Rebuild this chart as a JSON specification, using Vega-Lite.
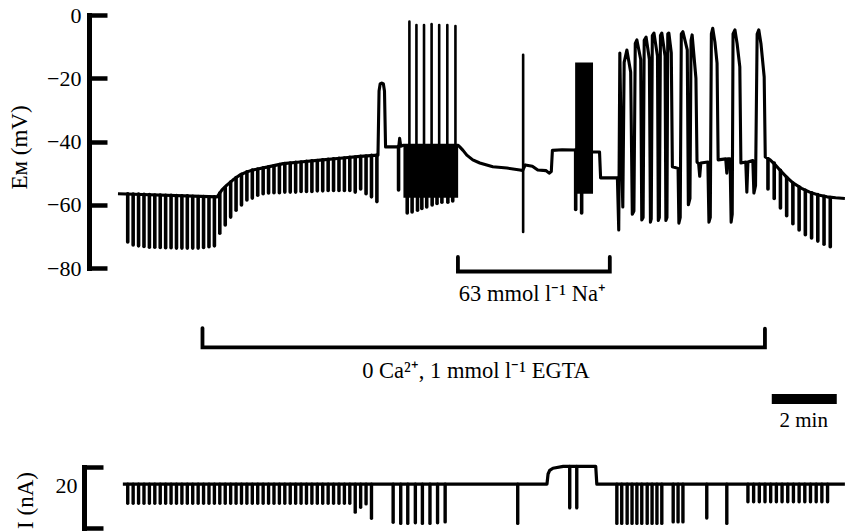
{
 "$schema": "https://vega.github.io/schema/vega-lite/v6.json",
 "width": 756,
 "height": 532,
 "autosize": {"type": "none"},
 "padding": {"left": 89, "top": 0, "right": 0, "bottom": 0},
 "background": "white",
 "config": {"view": {"stroke": null}},
 "datasets": {
  "vl": [
   {"t":0,"v":-56.5},{"t":183,"v":-57.5},{"t":192,"v":-55.3},{"t":201,"v":-53.8},{"t":212,"v":-52.2},{"t":225,"v":-50.6},{"t":238,"v":-49.6},{"t":249,"v":-49.0},{"t":275,"v":-48.1},{"t":305,"v":-47.0},{"t":336,"v":-46.5},{"t":373,"v":-45.9},{"t":410,"v":-45.3},{"t":447,"v":-44.7},{"t":480,"v":-44.3},
   {"t":482,"v":-24},{"t":484,"v":-21.8},{"t":487,"v":-21.5},{"t":490,"v":-21.8},{"t":492,"v":-24},{"t":494,"v":-41.7},{"t":516,"v":-41.7},{"t":518.5,"v":-41.5},{"t":520,"v":-39},{"t":522,"v":-41.5},{"t":527,"v":-41.2},{"t":628,"v":-41.2},
   {"t":631,"v":-41.7},{"t":637,"v":-42.8},{"t":644,"v":-44.3},{"t":655,"v":-45.8},{"t":668,"v":-46.8},{"t":692,"v":-48.0},{"t":718,"v":-48.4},{"t":742,"v":-49.0},{"t":747,"v":-49.2},{"t":752,"v":-47.4},{"t":765,"v":-47.8},{"t":775,"v":-49.0},{"t":790,"v":-49.2},{"t":796,"v":-50.0},{"t":800,"v":-49.5},{"t":802,"v":-42.8},{"t":820,"v":-42.6},{"t":844,"v":-42.7},{"t":877,"v":-43.3},{"t":889,"v":-43.3},{"t":891,"v":-51.5},{"t":922,"v":-51.5},
   {"t":924.5,"v":-68},{"t":926.5,"v":-12},{"t":929,"v":-40},{"t":932,"v":-60.7},{"t":934.5,"v":-15},{"t":939.5,"v":-11.1},{"t":946.5,"v":-18},{"t":949.5,"v":-63},{"t":952.5,"v":-62},{"t":955,"v":-9},{"t":958,"v":-7.9},{"t":965,"v":-14},{"t":967,"v":-64.8},{"t":969.5,"v":-64},{"t":971.5,"v":-8},{"t":975,"v":-7},{"t":981,"v":-14},{"t":983,"v":-65.5},{"t":984.5,"v":-64.5},{"t":986.5,"v":-6.5},{"t":989.5,"v":-5.7},{"t":996,"v":-13},{"t":997.5,"v":-65},{"t":999.5,"v":-64},{"t":1001.5,"v":-6.5},{"t":1004,"v":-5.7},{"t":1010,"v":-13},{"t":1011.5,"v":-65},{"t":1013.5,"v":-64},{"t":1015,"v":-6},{"t":1017,"v":-5.7},{"t":1021.5,"v":-12},{"t":1023.5,"v":-48},{"t":1034,"v":-48.5},{"t":1035.5,"v":-65.8},{"t":1038,"v":-64},{"t":1040,"v":-6},{"t":1043,"v":-5.3},{"t":1051,"v":-11},{"t":1053,"v":-60},{"t":1056,"v":-58},{"t":1058,"v":-8},{"t":1060,"v":-6.3},{"t":1067,"v":-20},{"t":1069,"v":-46.5},{"t":1072,"v":-47},{"t":1074,"v":-51},{"t":1076,"v":-46.8},{"t":1089,"v":-46.5},{"t":1091,"v":-65.5},{"t":1093.5,"v":-64},{"t":1095.5,"v":-6},{"t":1098,"v":-4.2},{"t":1102,"v":-8.5},{"t":1106,"v":-15.2},{"t":1108,"v":-45.8},{"t":1122,"v":-45.5},{"t":1124,"v":-50},{"t":1126,"v":-45.5},{"t":1130,"v":-45.5},{"t":1132,"v":-65.5},{"t":1134,"v":-63},{"t":1135.5,"v":-6},{"t":1139,"v":-4.7},{"t":1143,"v":-9},{"t":1148,"v":-16.4},{"t":1150,"v":-46.8},{"t":1159,"v":-46.5},{"t":1161,"v":-56},{"t":1163,"v":-46.5},{"t":1172,"v":-46},{"t":1174,"v":-56.3},{"t":1177,"v":-54},{"t":1180,"v":-6},{"t":1183,"v":-4.7},{"t":1187,"v":-9},{"t":1193,"v":-19.6},{"t":1195,"v":-44.9},
   {"t":1204,"v":-45.8},{"t":1213,"v":-47.3},{"t":1222,"v":-49.0},{"t":1234,"v":-51.2},{"t":1246,"v":-53.1},{"t":1262,"v":-54.8},{"t":1277,"v":-56.0},{"t":1293,"v":-56.9},{"t":1309,"v":-57.5},{"t":1325,"v":-57.8},{"t":1342,"v":-58.0}
  ],
  "vp": [
   {"t":18,"v":-56.5,"v2":-71.8},{"t":28,"v":-56.6,"v2":-72.7},{"t":38,"v":-56.6,"v2":-73.0},{"t":48,"v":-56.7,"v2":-73.2},{"t":58,"v":-56.8,"v2":-73.4},{"t":68,"v":-56.9,"v2":-73.4},{"t":78,"v":-56.9,"v2":-73.5},{"t":88,"v":-57.0,"v2":-73.6},{"t":98,"v":-57.0,"v2":-73.6},{"t":108,"v":-57.1,"v2":-73.7},{"t":118,"v":-57.2,"v2":-73.7},{"t":128,"v":-57.2,"v2":-73.7},{"t":138,"v":-57.3,"v2":-73.7},{"t":148,"v":-57.4,"v2":-73.7},{"t":158,"v":-57.4,"v2":-73.5},{"t":168,"v":-57.5,"v2":-73.3},{"t":178,"v":-57.5,"v2":-73.0},
   {"t":188,"v":-56.3,"v2":-69.0},{"t":198,"v":-54.6,"v2":-66.4},{"t":208,"v":-52.8,"v2":-63.9},{"t":218,"v":-51.4,"v2":-61.7},{"t":228,"v":-50.4,"v2":-60.1},{"t":238,"v":-49.6,"v2":-58.5},{"t":248,"v":-49.0,"v2":-57.9},{"t":258,"v":-48.7,"v2":-57.0},{"t":268,"v":-48.3,"v2":-56.5},{"t":278,"v":-48.0,"v2":-56.3},{"t":288,"v":-47.7,"v2":-56.2},{"t":298,"v":-47.3,"v2":-56.2},{"t":308,"v":-47.0,"v2":-56.0},{"t":318,"v":-46.8,"v2":-56.0},{"t":328,"v":-46.6,"v2":-56.0},{"t":338,"v":-46.5,"v2":-55.8},{"t":348,"v":-46.3,"v2":-55.8},{"t":358,"v":-46.1,"v2":-55.8},{"t":368,"v":-46.0,"v2":-55.6},{"t":378,"v":-45.8,"v2":-55.6},{"t":388,"v":-45.6,"v2":-55.5},{"t":398,"v":-45.5,"v2":-55.5},{"t":408,"v":-45.3,"v2":-55.5},{"t":418,"v":-45.2,"v2":-55.5},{"t":428,"v":-45.0,"v2":-55.5},{"t":438,"v":-44.9,"v2":-56.0},{"t":448,"v":-44.7,"v2":-55.0},{"t":458,"v":-44.6,"v2":-56.5},{"t":468,"v":-44.4,"v2":-57.5},{"t":478,"v":-44.3,"v2":-59.0},
   {"t":518,"v":-41.5,"v2":-55.3},
   {"t":534,"v":-56,"v2":-62.6},{"t":543,"v":-56,"v2":-62.3},{"t":553,"v":-56,"v2":-61.7},{"t":561,"v":-56,"v2":-61.2},{"t":570,"v":-56,"v2":-60.7},{"t":580,"v":-56,"v2":-60.1},{"t":589,"v":-56,"v2":-59.6},{"t":598,"v":-56,"v2":-59.2},{"t":609,"v":-56,"v2":-59.2},{"t":618,"v":-56,"v2":-58.8},
   {"t":845,"v":-42.7,"v2":-61.5},{"t":856,"v":-55,"v2":-62.6},
   {"t":1200,"v":-45.5,"v2":-55},{"t":1211.5,"v":-46.8,"v2":-58},{"t":1223,"v":-49.1,"v2":-61},{"t":1234.5,"v":-51.3,"v2":-63.5},{"t":1246,"v":-53.1,"v2":-66},{"t":1257.5,"v":-54.4,"v2":-68},{"t":1269,"v":-55.4,"v2":-69.5},{"t":1280.5,"v":-56.2,"v2":-70.5},{"t":1292,"v":-56.8,"v2":-71.5},{"t":1303.5,"v":-57.3,"v2":-72.5},{"t":1315,"v":-57.7,"v2":-73.3}
  ],
  "vs": [
   {"t":538,"v":-42,"v2":-2.1},{"t":551,"v":-42,"v2":-3.2},{"t":565,"v":-42,"v2":-3.2},{"t":579,"v":-42,"v2":-2.9},{"t":593,"v":-42,"v2":-3.2},{"t":608,"v":-42,"v2":-3.2},{"t":623,"v":-42,"v2":-3.5},{"t":748,"v":-68.6,"v2":-12.6}
  ],
  "vb": [
   {"t":527,"t2":628,"v":-40.8,"v2":-57.8},{"t":844,"t2":877,"v":-15,"v2":-56.5}
  ],
  "br": [
   {"g":"na","k":1,"t":627.6,"v":-76.5},{"g":"na","k":2,"t":627.6,"v":-81.1},{"g":"na","k":3,"t":908,"v":-81.1},{"g":"na","k":4,"t":908,"v":-76.5},
   {"g":"eg","k":1,"t":156,"v":-99.0},{"g":"eg","k":2,"t":156,"v":-105.1},{"g":"eg","k":3,"t":1194.4,"v":-105.1},{"g":"eg","k":4,"t":1194.4,"v":-99.2}
  ],
  "sb": [{"t":1207,"t2":1327,"v":-121.4}],
  "tx": [
   {"t":765,"v":-88.1,"label":"63 mmol l⁻¹ Na⁺"},
   {"t":661,"v":-112.6,"label":"0 Ca²⁺, 1 mmol l⁻¹ EGTA"}
  ],
  "tx2": [
   {"t":1266,"v":-128.5,"label":"2 min"}
  ],
  "il": [
   {"t":9,"i":0},{"t":792,"i":0},{"t":794,"i":3.3},{"t":797,"i":4.5},{"t":803,"i":5.2},{"t":822,"i":5.8},{"t":882,"i":5.8},{"t":884,"i":0},{"t":1342,"i":0}
  ],
  "ip": [
   {"t":18,"i":0,"i2":-6.3},{"t":28,"i":0,"i2":-6.3},{"t":38,"i":0,"i2":-6.3},{"t":48,"i":0,"i2":-6.3},{"t":58,"i":0,"i2":-6.3},{"t":68,"i":0,"i2":-6.3},{"t":78,"i":0,"i2":-6.3},{"t":88,"i":0,"i2":-6.3},{"t":98,"i":0,"i2":-6.3},{"t":108,"i":0,"i2":-6.3},{"t":118,"i":0,"i2":-6.3},{"t":128,"i":0,"i2":-6.3},{"t":138,"i":0,"i2":-6.3},{"t":148,"i":0,"i2":-6.3},{"t":158,"i":0,"i2":-6.3},{"t":168,"i":0,"i2":-6.3},{"t":178,"i":0,"i2":-6.3},{"t":188,"i":0,"i2":-6.3},{"t":198,"i":0,"i2":-6.3},{"t":208,"i":0,"i2":-6.3},{"t":218,"i":0,"i2":-6.3},{"t":228,"i":0,"i2":-6.3},{"t":238,"i":0,"i2":-6.3},{"t":248,"i":0,"i2":-6.3},{"t":258,"i":0,"i2":-6.3},{"t":268,"i":0,"i2":-6.3},{"t":278,"i":0,"i2":-6.3},{"t":288,"i":0,"i2":-6.3},{"t":298,"i":0,"i2":-6.3},{"t":308,"i":0,"i2":-6.3},{"t":318,"i":0,"i2":-6.3},{"t":328,"i":0,"i2":-6.3},{"t":338,"i":0,"i2":-6.3},{"t":348,"i":0,"i2":-6.3},{"t":358,"i":0,"i2":-6.3},{"t":368,"i":0,"i2":-6.3},{"t":378,"i":0,"i2":-6.3},{"t":388,"i":0,"i2":-6.3},{"t":398,"i":0,"i2":-6.3},{"t":408,"i":0,"i2":-6.3},{"t":418,"i":0,"i2":-6.3},{"t":428,"i":0,"i2":-6.3},
   {"t":438,"i":0,"i2":-9.2},{"t":448,"i":0,"i2":-7.6},{"t":458,"i":0,"i2":-6.5},{"t":468,"i":0,"i2":-11.2},
   {"t":508,"i":0,"i2":-12.5},{"t":522,"i":0,"i2":-12.9},{"t":535,"i":0,"i2":-12.9},{"t":549,"i":0,"i2":-12.7},{"t":562,"i":0,"i2":-12.9},{"t":576,"i":0,"i2":-12.9},{"t":590,"i":0,"i2":-12.7},{"t":604,"i":0,"i2":-12.4},
   {"t":738,"i":0,"i2":-12.9},
   {"t":834,"i":5.8,"i2":-7.8},{"t":847,"i":5.8,"i2":-7.8},
   {"t":921,"i":0,"i2":-12.9},{"t":930,"i":0,"i2":-12.9},{"t":940,"i":0,"i2":-12.9},{"t":949,"i":0,"i2":-12.9},{"t":958,"i":0,"i2":-12.9},{"t":967,"i":0,"i2":-12.9},{"t":977,"i":0,"i2":-12.9},{"t":986,"i":0,"i2":-12.9},{"t":995,"i":0,"i2":-12.9},{"t":1004,"i":0,"i2":-12.9},
   {"t":1025,"i":0,"i2":-12.4},{"t":1034,"i":0,"i2":-12.4},{"t":1043,"i":0,"i2":-12.4},
   {"t":1087,"i":0,"i2":-11.1},{"t":1124,"i":0,"i2":-12.9},
   {"t":1163,"i":0,"i2":-5.8},{"t":1173.5,"i":0,"i2":-5.8},{"t":1184,"i":0,"i2":-5.8},{"t":1194.5,"i":0,"i2":-5.8},{"t":1205,"i":0,"i2":-5.8},{"t":1215.5,"i":0,"i2":-5.8},{"t":1226,"i":0,"i2":-5.8},{"t":1236.5,"i":0,"i2":-5.8},{"t":1247,"i":0,"i2":-5.8},{"t":1257.5,"i":0,"i2":-5.8},{"t":1268,"i":0,"i2":-5.8},{"t":1278.5,"i":0,"i2":-5.8},{"t":1289,"i":0,"i2":-5.8},{"t":1299.5,"i":0,"i2":-5.8},{"t":1310,"i":0,"i2":-5.8}
  ]
 },
 "layer": [
  {
   "encoding": {
    "x": {"field": "t", "type": "quantitative", "scale": {"domain": [-53.5, 1342.2], "nice": false, "zero": false}, "axis": null},
    "y": {"field": "v", "type": "quantitative", "scale": {"domain": [-80, 0], "range": [268, 15], "nice": false, "zero": false},
     "axis": {"orient": "left", "values": [-80, -60, -40, -20, 0], "title": "Eᴍ (mV)", "grid": false,
      "domainColor": "black", "domainWidth": 5, "domainCap": "square",
      "tickColor": "black", "tickWidth": 4.5, "tickSize": -18,
      "labelFont": "Liberation Serif", "labelFontSize": 22, "labelColor": "black", "labelPadding": 26, "labelFlush": false, "labelOverlap": false, "labelBound": false,
      "titleFont": "Liberation Serif", "titleFontSize": 23, "titleFontWeight": "normal", "titleColor": "black",
      "titleX": -63, "titleY": 147, "titleAngle": 270, "titleAlign": "center", "titleBaseline": "alphabetic"}}
   },
   "layer": [
    {"data": {"name": "vb"}, "mark": {"type": "rect", "color": "black"}, "encoding": {"x2": {"field": "t2"}, "y2": {"field": "v2"}}},
    {"data": {"name": "vl"}, "mark": {"type": "line", "color": "black", "strokeWidth": 3.1, "strokeJoin": "round"}},
    {"data": {"name": "vp"}, "mark": {"type": "rule", "color": "black", "strokeWidth": 3.6, "strokeCap": "round"}, "encoding": {"y2": {"field": "v2"}}},
    {"data": {"name": "vs"}, "mark": {"type": "rule", "color": "black", "strokeWidth": 2.6, "strokeCap": "round"}, "encoding": {"y2": {"field": "v2"}}},
    {"data": {"name": "br"}, "mark": {"type": "line", "color": "black", "strokeWidth": 3.8, "strokeJoin": "miter", "strokeCap": "round"}, "encoding": {"detail": {"field": "g"}, "order": {"field": "k"}}},
    {"data": {"name": "sb"}, "mark": {"type": "rule", "color": "black", "strokeWidth": 10, "strokeCap": "butt"}, "encoding": {"x2": {"field": "t2"}}},
    {"data": {"name": "tx"}, "mark": {"type": "text", "color": "black", "font": "Liberation Serif", "fontSize": 22.5, "align": "center", "baseline": "middle"}, "encoding": {"text": {"field": "label"}}},
    {"data": {"name": "tx2"}, "mark": {"type": "text", "color": "black", "font": "Liberation Serif", "fontSize": 21, "align": "center", "baseline": "middle"}, "encoding": {"text": {"field": "label"}}}
   ]
  },
  {
   "encoding": {
    "x": {"field": "t", "type": "quantitative", "scale": {"domain": [-53.5, 1342.2], "nice": false, "zero": false}, "axis": null},
    "y": {"field": "i", "type": "quantitative", "scale": {"domain": [-14.4, 5.6], "range": [528, 467], "nice": false, "zero": false},
     "axis": {"orient": "left", "offset": 5, "values": [-14.4, -0.5, 5.6], "title": "I (nA)", "grid": false,
      "labelExpr": "datum.value === -0.5 ? '20' : ''",
      "tickOpacity": {"condition": {"test": "datum.value === -0.5", "value": 0}, "value": 1},
      "domainColor": "black", "domainWidth": 5, "domainCap": "square",
      "tickColor": "black", "tickWidth": 4.5, "tickSize": -19,
      "labelFont": "Liberation Serif", "labelFontSize": 22, "labelColor": "black", "labelPadding": 26, "labelFlush": false, "labelOverlap": false, "labelBound": false,
      "titleFont": "Liberation Serif", "titleFontSize": 23, "titleFontWeight": "normal", "titleColor": "black",
      "titleX": -52, "titleY": 500, "titleAngle": 270, "titleAlign": "center", "titleBaseline": "alphabetic"}}
   },
   "layer": [
    {"data": {"name": "il"}, "mark": {"type": "line", "color": "black", "strokeWidth": 3.2, "strokeJoin": "round"}},
    {"data": {"name": "ip"}, "mark": {"type": "rule", "color": "black", "strokeWidth": 3.4, "strokeCap": "round"}, "encoding": {"y2": {"field": "i2"}}}
   ]
  }
 ],
 "resolve": {"scale": {"y": "independent"}, "axis": {"y": "independent"}}
}
